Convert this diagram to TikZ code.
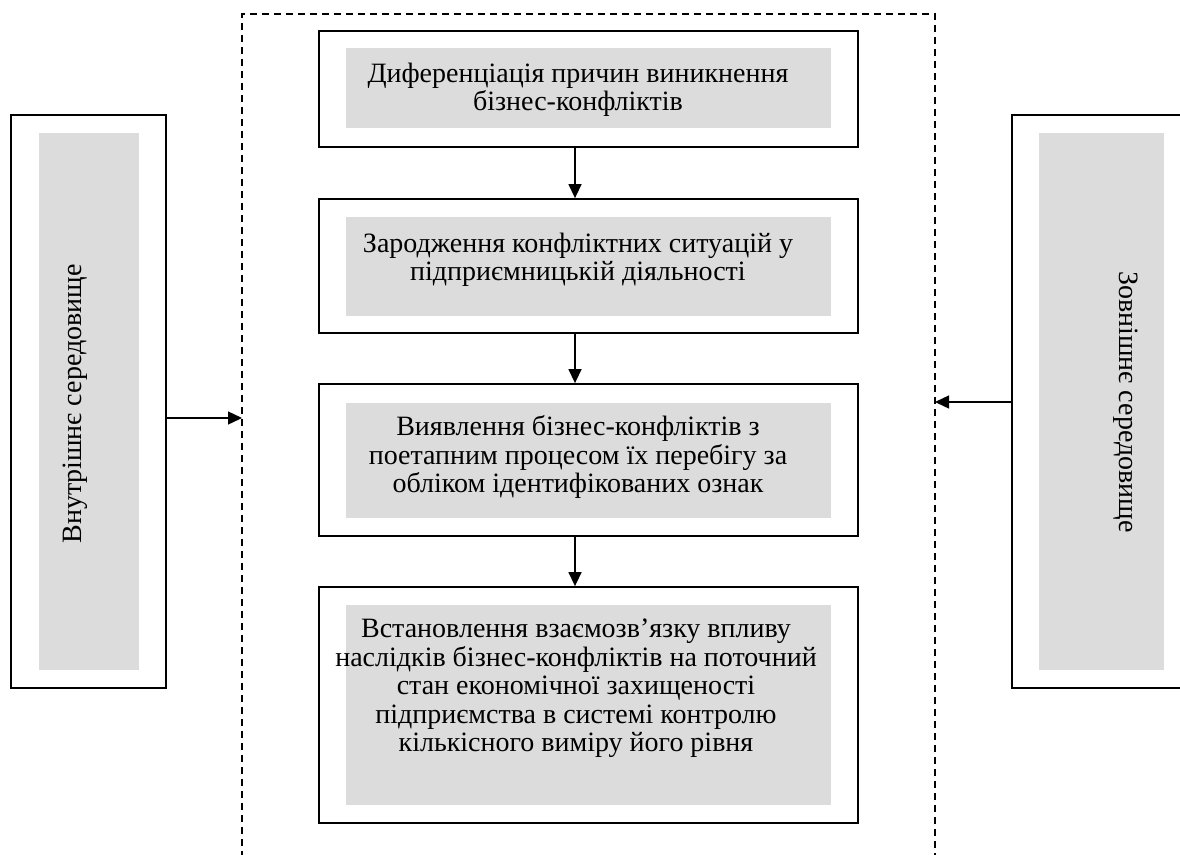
\documentclass[tikz,border=0pt]{standalone}
\usepackage{fontspec}
\setmainfont{Liberation Serif}
\usetikzlibrary{arrows.meta}
\definecolor{boxgray}{HTML}{DCDCDC}
\begin{document}
\begin{tikzpicture}[x=1pt,y=-1pt,
  outerbox/.style={draw=black, line width=1.8pt, fill=white, inner sep=0pt},
  graybox/.style={fill=boxgray, draw=none, inner sep=0pt},
  label/.style={inner sep=0pt, align=center, anchor=north, font=\fontsize{28}{28.5}\selectfont},
  sidelabel/.style={inner sep=0pt, font=\fontsize{28}{28.5}\selectfont},
  arr/.style={line width=1.4pt, -{Triangle[length=14pt,width=13pt]}},
  dashframe/.style={line width=1.8pt, dash pattern=on 7pt off 5pt}]
\clip (0,0) rectangle (1180,854);
\fill[white] (0,0) rectangle (1180,854);

% dashed frame
\coordinate (dbl) at (242,870);
\coordinate (dtl) at (242,14);
\coordinate (dtr) at (935,14);
\coordinate (dbr) at (935,870);
\draw[dashframe] (dbl) -- (dtl) -- (dtr) -- (dbr);

% central boxes
\node[outerbox, minimum width=539pt, minimum height=116pt] (b1) at (588.5,89) {};
\node[graybox, minimum width=485pt, minimum height=80pt] (g1) at (588.5,88) {};
\node[label] (t1) at (578,62.7) {Диференціація причин виникнення\\бізнес-конфліктів};

\node[outerbox, minimum width=539pt, minimum height=134pt] (b2) at (588.5,266) {};
\node[graybox, minimum width=485pt, minimum height=99pt] (g2) at (588.5,266.5) {};
\node[label] (t2) at (578,232.7) {Зародження конфліктних ситуацій у\\підприємницькій діяльності};

\node[outerbox, minimum width=539pt, minimum height=152pt] (b3) at (588.5,460) {};
\node[graybox, minimum width=485pt, minimum height=115pt] (g3) at (588.5,460.5) {};
\node[label] (t3) at (578,415.7) {Виявлення бізнес-конфліктів з\\поетапним процесом їх перебігу за\\обліком ідентифікованих ознак};

\node[outerbox, minimum width=539pt, minimum height=236pt] (b4) at (588.5,705) {};
\node[graybox, minimum width=485pt, minimum height=200pt] (g4) at (588.5,705) {};
\node[label] (t4) at (576,618.7) {Встановлення взаємозв’язку впливу\\наслідків бізнес-конфліктів на поточний\\стан економічної захищеності\\підприємства в системі контролю\\кількісного виміру його рівня};

% side boxes
\node[outerbox, minimum width=155pt, minimum height=573pt] (L) at (88.5,401.5) {};
\node[graybox, minimum width=100pt, minimum height=537pt] (LG) at (89,401.5) {};
\node[sidelabel, rotate=90] (LT) at (75,404) {Внутрішнє середовище};

\node[outerbox, minimum width=188pt, minimum height=573pt] (R) at (1106,401.5) {};
\node[graybox, minimum width=125pt, minimum height=537pt] (RG) at (1101.5,401.5) {};
\node[sidelabel, rotate=-90] (RT) at (1126,402) {Зовнішнє середовище};

% connectors
\coordinate (ax) at (575,0);
\draw[arr] (b1.south -| ax) -- (b2.north -| ax);
\draw[arr] (b2.south -| ax) -- (b3.north -| ax);
\draw[arr] (b3.south -| ax) -- (b4.north -| ax);

\coordinate (dl) at (242,418);
\coordinate (dr) at (935,402);
\draw[arr] (L.east |- dl) -- (dl);
\draw[arr] (R.west |- dr) -- (dr);
\end{tikzpicture}
\end{document}
